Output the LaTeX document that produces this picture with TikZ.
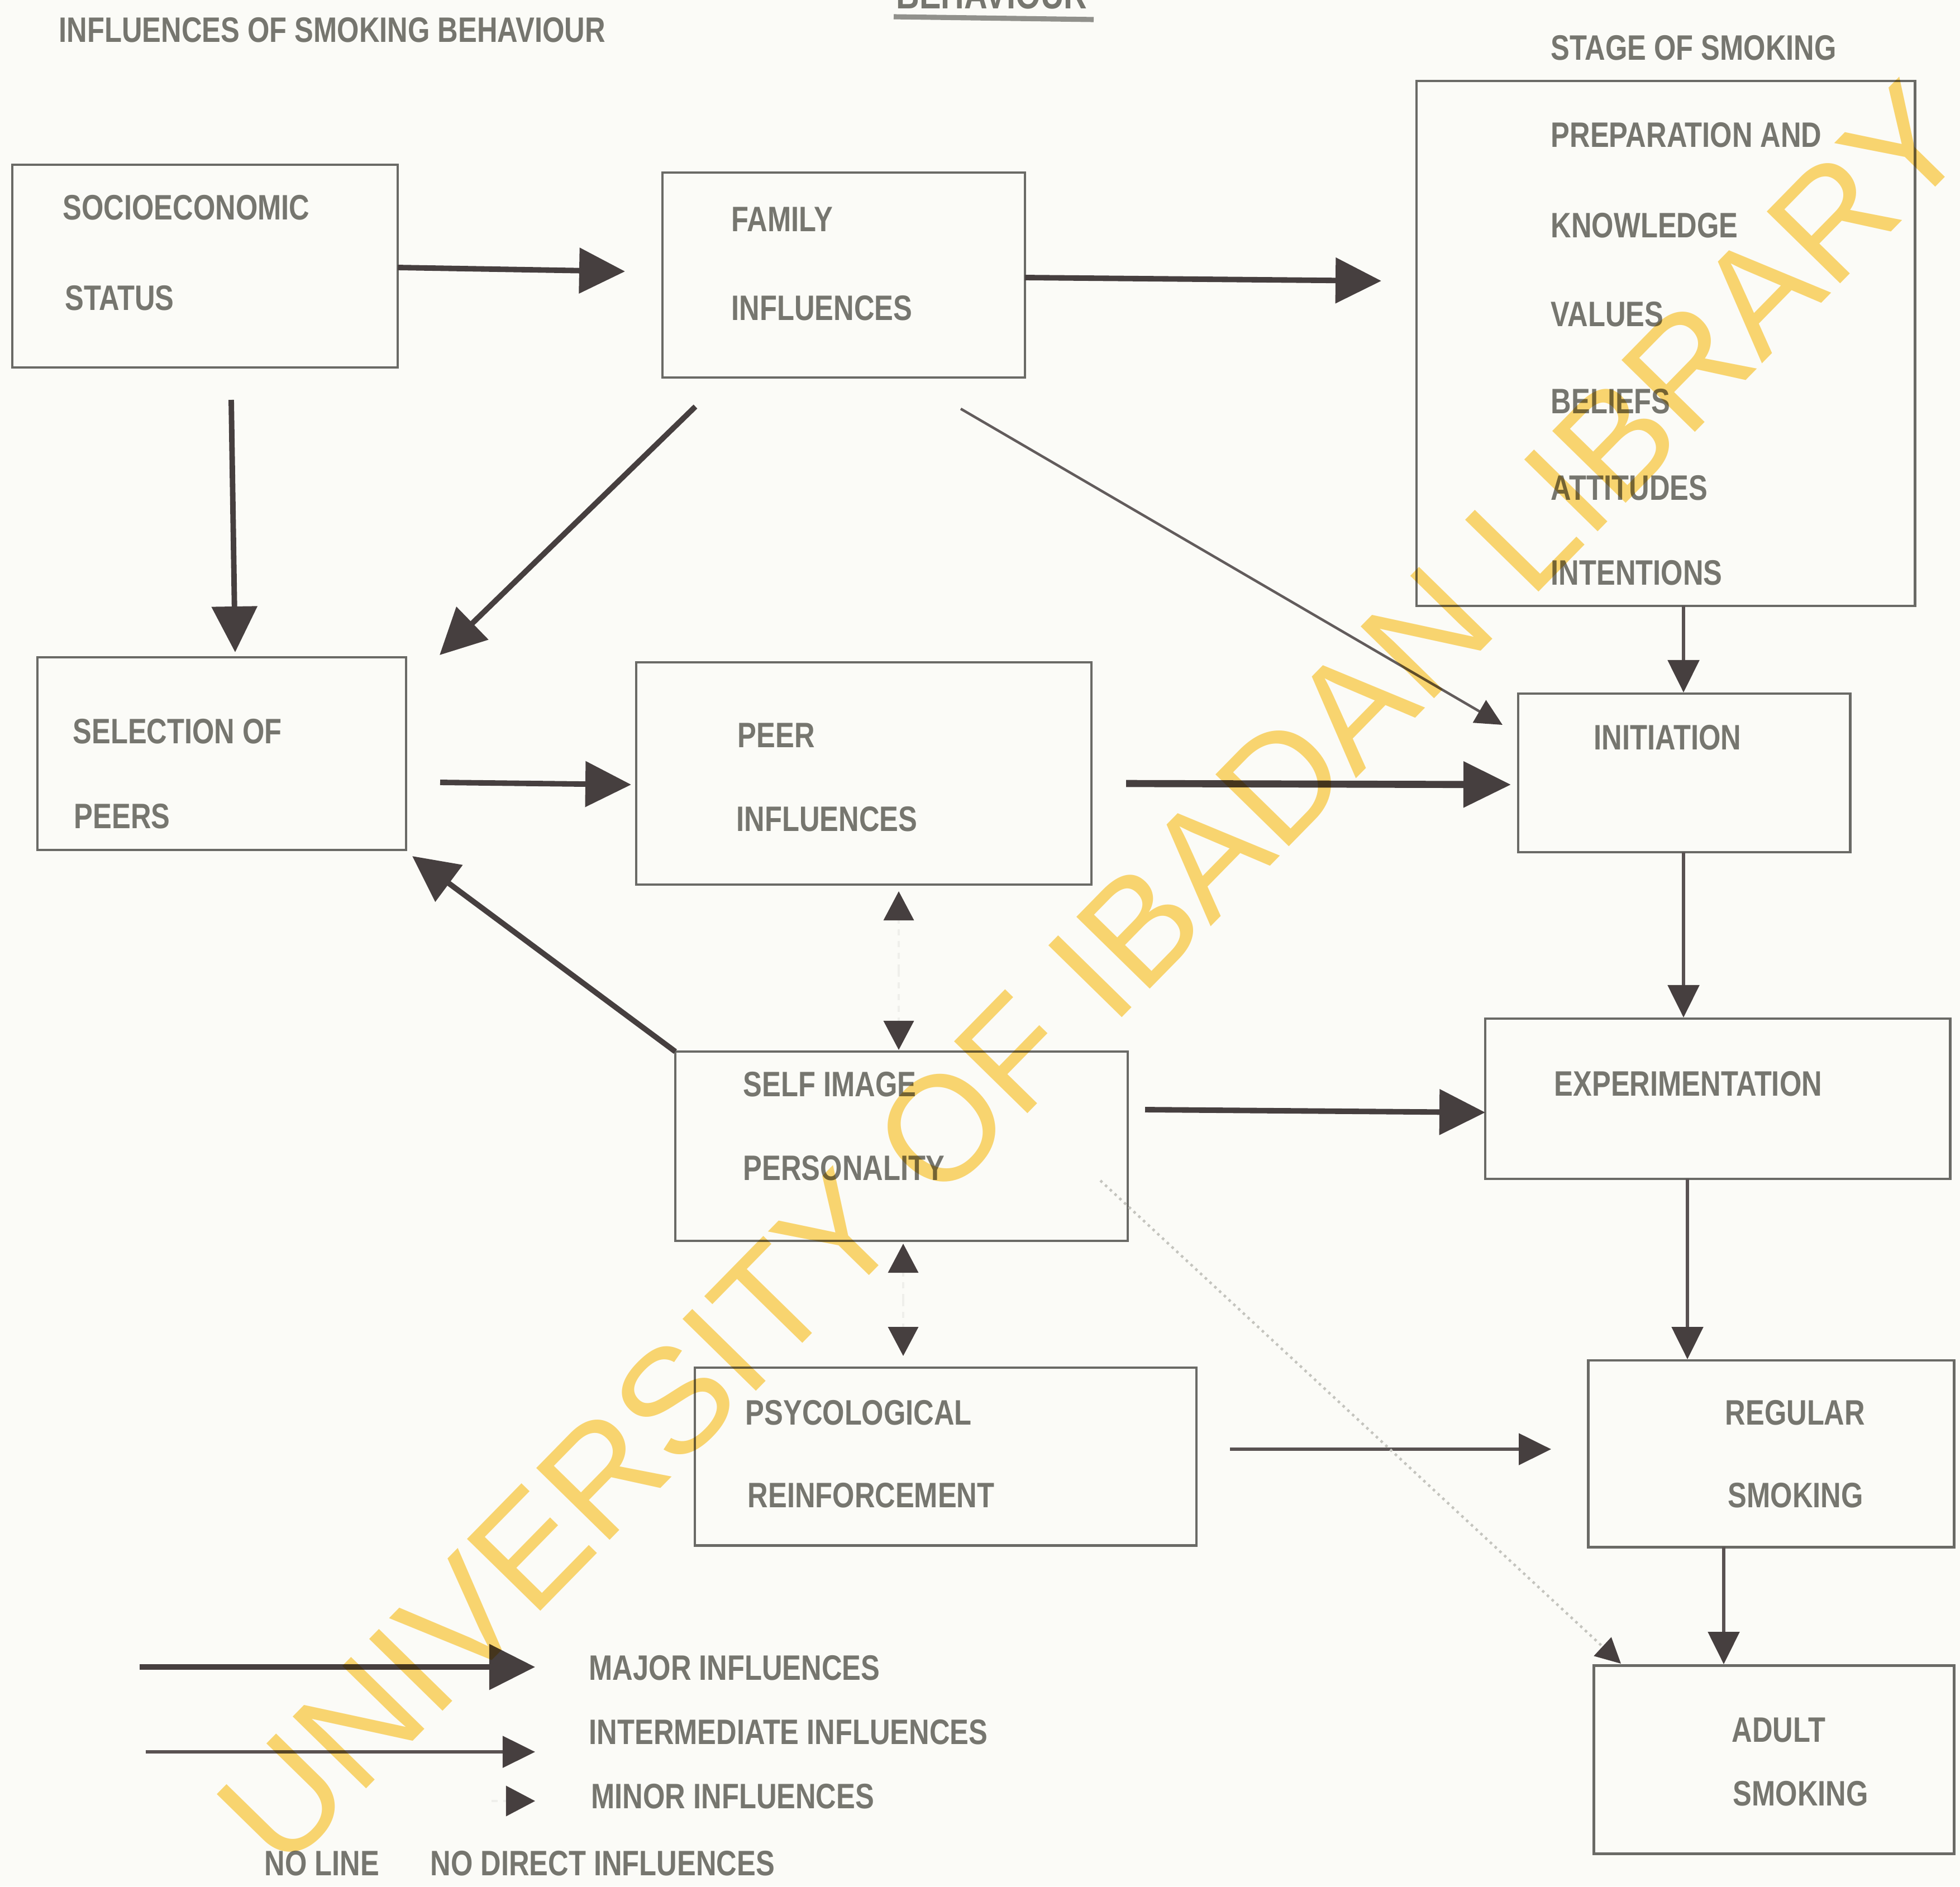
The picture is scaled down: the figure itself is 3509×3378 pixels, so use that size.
\documentclass[tikz,border=0pt]{standalone}
\usepackage{fontspec}
\setmainfont{Liberation Sans}[FakeStretch=0.8]
\newfontfamily\wmfont{Liberation Sans}
\usetikzlibrary{arrows.meta,fit}
\definecolor{bgc}{HTML}{FBFBF7}
\definecolor{txt}{HTML}{76766F}
\definecolor{linec}{HTML}{463F3F}
\definecolor{boxc}{HTML}{6A6A66}
\definecolor{faint}{HTML}{C4C4BE}
\definecolor{wm}{HTML}{FCD873}
\begin{document}
\begin{tikzpicture}[x=0.01cm,y=-0.01cm,
  box/.style={draw=boxc, line width=1.4pt, inner sep=0pt},
  lbl/.style={anchor=base west, inner sep=0pt, text=txt, font=\bfseries\fontsize{18}{20}\selectfont},
  major/.style={draw=linec, line width=2.8pt, -{Triangle[length=0.82cm,width=0.8cm]}},
  heavy/.style={draw=linec, line width=3.6pt, -{Triangle[length=0.85cm,width=0.8cm]}},
  inter/.style={draw=linec!90, line width=1.6pt, -{Triangle[length=0.58cm,width=0.56cm,color=linec]}},
  thinl/.style={draw=linec!85, line width=1.3pt, -{Triangle[length=0.48cm,width=0.46cm,color=linec]}},
  minor/.style={draw=bgc!90!gray, line width=1pt, dashed, -{Triangle[length=0.52cm,width=0.54cm,color=linec]}},
  faintl/.style={draw=faint, line width=1.3pt, dotted, -{Triangle[length=0.45cm,width=0.45cm,color=linec]}}
]
\useasboundingbox (0,0) rectangle (3509,3378);
\fill[bgc] (0,0) rectangle (3509,3378);

% header texts
\node[lbl] (title) at (105,75) {INFLUENCES OF SMOKING BEHAVIOUR};
\node[lbl, font=\bfseries\fontsize{20.5}{22}\selectfont] (beh) at (1604,15) {BEHAVIOUR};
\coordinate (ul1) at (1600,30);
\coordinate (ul2) at (1958,35);
\draw[draw=txt!80, line width=2.6pt] (ul1) -- (ul2);
\node[lbl] (stagehd) at (2776,107) {STAGE OF SMOKING};

% boxes
\node[box, fit={(22,295) (712,658)}] (socio) {};
\node[box, fit={(1186,309) (1835,676)}] (family) {};
\node[box, fit={(2536,145) (3428,1085)}] (stage) {};
\node[box, fit={(67,1177) (727,1522)}] (selection) {};
\node[box, fit={(1139,1186) (1954,1584)}] (peer) {};
\node[box, fit={(2718,1242) (3312,1526)}] (initiation) {};
\node[box, fit={(1209,1883) (2019,2222)}] (self) {};
\node[box, fit={(2659,1824) (3491,2111)}] (exper) {};
\node[box, fit={(1244,2449) (2142,2767)}] (psyc) {};
\node[box, fit={(2843,2436) (3498,2770)}] (regular) {};
\node[box, fit={(2853,2982) (3498,3319)}] (adult) {};

% box labels
\node[lbl] (t1a) at (112,393) {SOCIOECONOMIC};
\node[lbl] (t1b) at (116,555) {STATUS};
\node[lbl] (t2a) at (1309,414) {FAMILY};
\node[lbl] (t2b) at (1309,573) {INFLUENCES};
\node[lbl] (t3a) at (2776,263) {PREPARATION AND};
\node[lbl] (t3b) at (2776,425) {KNOWLEDGE};
\node[lbl] (t3c) at (2776,584) {VALUES};
\node[lbl] (t3d) at (2776,740) {BELIEFS};
\node[lbl] (t3e) at (2776,895) {ATTITUDES};
\node[lbl] (t3f) at (2776,1047) {INTENTIONS};
\node[lbl] (t4a) at (130,1331) {SELECTION OF};
\node[lbl] (t4b) at (132,1483) {PEERS};
\node[lbl] (t5a) at (1320,1338) {PEER};
\node[lbl] (t5b) at (1318,1488) {INFLUENCES};
\node[lbl] (t6a) at (2853,1342) {INITIATION};
\node[lbl] (t7a) at (1330,1963) {SELF IMAGE};
\node[lbl] (t7b) at (1330,2113) {PERSONALITY};
\node[lbl] (t8a) at (2782,1962) {EXPERIMENTATION};
\node[lbl] (t9a) at (1334,2551) {PSYCOLOGICAL};
\node[lbl] (t9b) at (1338,2699) {REINFORCEMENT};
\node[lbl] (t10a) at (3088,2551) {REGULAR};
\node[lbl] (t10b) at (3093,2699) {SMOKING};
\node[lbl] (t11a) at (3100,3119) {ADULT};
\node[lbl] (t11b) at (3102,3233) {SMOKING};

% connector end points
\coordinate (a1s) at (712,479);   \coordinate (a1e) at (1119,486);
\coordinate (a2s) at (1835,497);  \coordinate (a2e) at (2473,503);
\coordinate (a3s) at (414,716);   \coordinate (a3e) at (421,1168);
\coordinate (a4s) at (1245,728);  \coordinate (a4e) at (787,1173);
\coordinate (a5s) at (1720,732);  \coordinate (a5e) at (2690,1298);
\coordinate (a6s) at (3014,1085); \coordinate (a6e) at (3014,1240);
\coordinate (a7s) at (788,1401);  \coordinate (a7e) at (1130,1405);
\coordinate (a8s) at (2016,1403); \coordinate (a8e) at (2705,1405);
\coordinate (a9s) at (1209,1883); \coordinate (a9e) at (738,1533);
\coordinate (m1) at (1609,1738);  \coordinate (m1u) at (1609,1596); \coordinate (m1d) at (1609,1880);
\coordinate (m2) at (1617,2328);  \coordinate (m2u) at (1617,2227); \coordinate (m2d) at (1617,2428);
\coordinate (a10s) at (2050,1987); \coordinate (a10e) at (2659,1992);
\coordinate (a11s) at (3014,1526); \coordinate (a11e) at (3014,1822);
\coordinate (a12s) at (3021,2111); \coordinate (a12e) at (3021,2434);
\coordinate (a13s) at (2202,2595); \coordinate (a13e) at (2777,2595);
\coordinate (a14s) at (3086,2770); \coordinate (a14e) at (3086,2980);
\coordinate (a15s) at (1970,2114); \coordinate (a15e) at (2902,2979);

% connectors
\draw[major] (a1s) -- (a1e);
\draw[major] (a2s) -- (a2e);
\draw[major] (a3s) -- (a3e);
\draw[major] (a4s) -- (a4e);
\draw[thinl] (a5s) -- (a5e);
\draw[inter] (a6s) -- (a6e);
\draw[major] (a7s) -- (a7e);
\draw[heavy] (a8s) -- (a8e);
\draw[major] (a9s) -- (a9e);
\draw[minor] (m1) -- (m1u);
\draw[minor] (m1) -- (m1d);
\draw[minor] (m2) -- (m2u);
\draw[minor] (m2) -- (m2d);
\draw[major] (a10s) -- (a10e);
\draw[inter] (a11s) -- (a11e);
\draw[inter] (a12s) -- (a12e);
\draw[inter] (a13s) -- (a13e);
\draw[inter] (a14s) -- (a14e);
\draw[faintl] (a15s) -- (a15e);

% legend
\coordinate (l1s) at (250,2985); \coordinate (l1e) at (958,2985);
\coordinate (l2s) at (261,3137); \coordinate (l2e) at (958,3137);
\coordinate (l3s) at (880,3225); \coordinate (l3e) at (958,3225);
\draw[major] (l1s) -- (l1e);
\draw[inter] (l2s) -- (l2e);
\draw[minor] (l3s) -- (l3e);
\node[lbl] (lg1) at (1054,3008) {MAJOR INFLUENCES};
\node[lbl] (lg2) at (1054,3123) {INTERMEDIATE INFLUENCES};
\node[lbl] (lg3) at (1058,3238) {MINOR INFLUENCES};
\node[lbl] (lg4) at (473,3358) {NO LINE};
\node[lbl] (lg5) at (770,3358) {NO DIRECT INFLUENCES};

% watermark
\begin{scope}[blend mode=multiply]
\node[rotate=45.6, text=wm, inner sep=0pt, font=\wmfont\fontsize{76}{80}\selectfont] (wmark) at (1955,1745) {UNIVERSITY OF IBADAN LIBRARY};
\end{scope}
\end{tikzpicture}
\end{document}
